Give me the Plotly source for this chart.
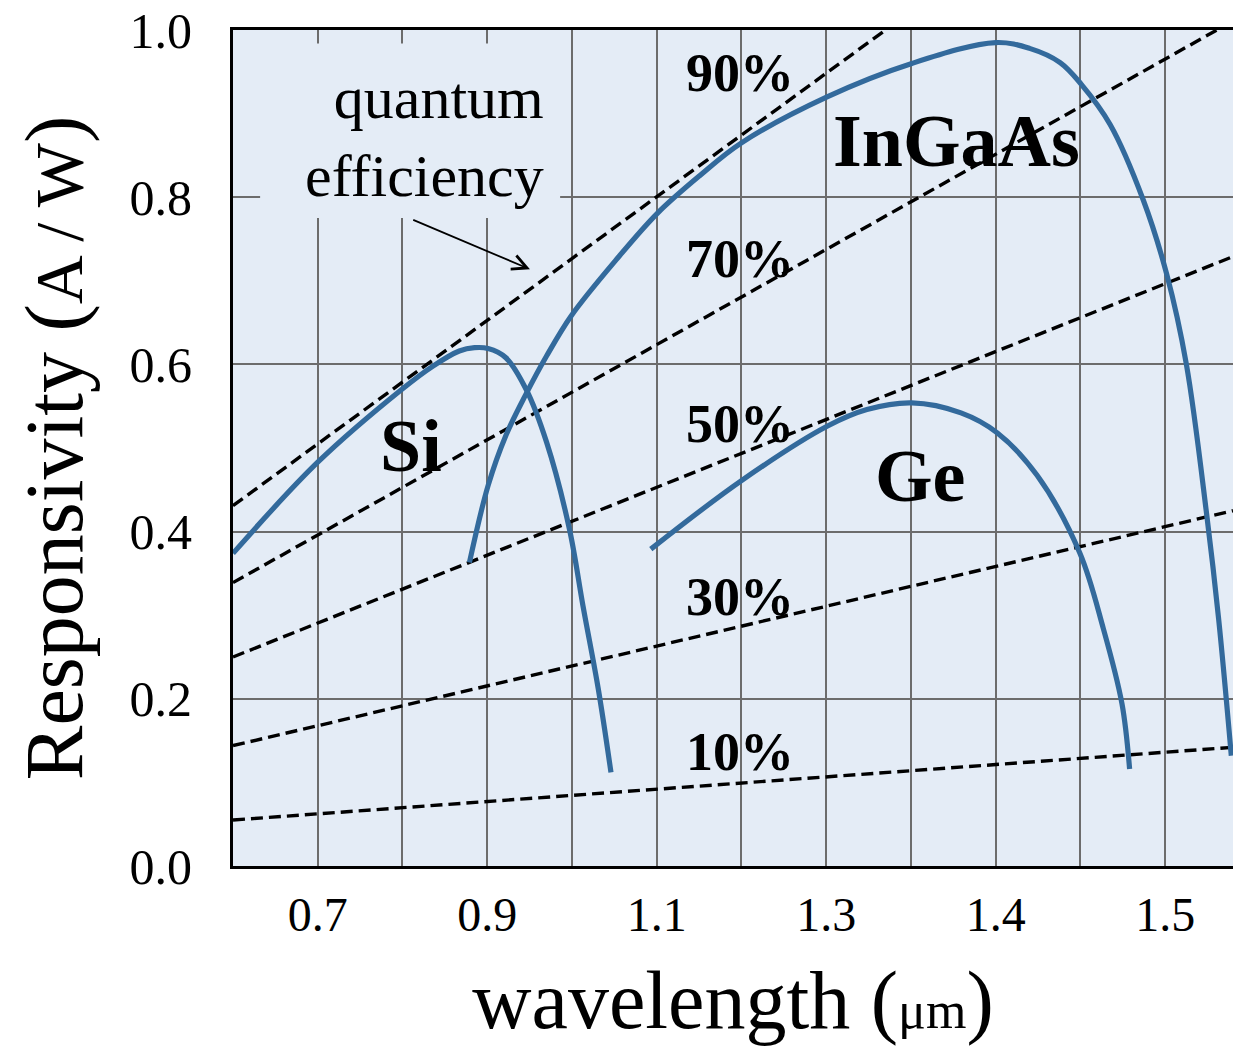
import plotly.graph_objects as go

# ---------------- data ----------------
si_wl = [0.600, 0.700, 0.799, 0.836, 0.867, 0.885, 0.901, 0.922, 0.946, 0.970, 0.997, 1.013, 1.031, 1.046]
si_r = [0.374, 0.483, 0.570, 0.598, 0.616, 0.620, 0.619, 0.608, 0.570, 0.507, 0.403, 0.311, 0.212, 0.112]

ingaas_wl = [0.879, 0.901, 0.922, 0.946, 0.970, 0.999, 1.052, 1.101, 1.151, 1.200, 1.301, 1.401, 1.500,
             1.540, 1.576, 1.601, 1.635, 1.674, 1.702, 1.725, 1.749, 1.763, 1.778]
ingaas_r = [0.363, 0.455, 0.515, 0.565, 0.610, 0.658, 0.725, 0.781, 0.826, 0.865, 0.920, 0.960, 0.985,
            0.978, 0.961, 0.935, 0.887, 0.797, 0.707, 0.600, 0.420, 0.296, 0.132]

ge_wl = [1.093, 1.200, 1.301, 1.348, 1.401, 1.459, 1.502, 1.549, 1.599, 1.627, 1.649, 1.658]
ge_r = [0.379, 0.461, 0.526, 0.546, 0.554, 0.542, 0.518, 0.467, 0.375, 0.284, 0.194, 0.116]

qe_labels = ["90%", "70%", "50%", "30%", "10%"]
qe_wl = [[0.600, 1.370], [0.600, 1.761], [0.600, 1.780], [0.600, 1.780], [0.600, 1.780]]
qe_r = [[0.431, 1.000], [0.339, 1.000], [0.250, 0.729], [0.144, 0.425], [0.055, 0.142]]
qe_label_r = [0.949, 0.726, 0.529, 0.322, 0.136]

x_tickvals = [0.7, 0.8, 0.9, 1.0, 1.1, 1.2, 1.3, 1.4, 1.5, 1.6, 1.7]
x_ticktext = ["0.7", "", "0.9", "", "1.1", "", "1.3", "", "1.4", "", "1.5"]
y_tickvals = [0.0, 0.2, 0.4, 0.6, 0.8, 1.0]
y_ticktext = ["0.0", "0.2", "0.4", "0.6", "0.8", "1.0"]

materials = ["Si", "InGaAs", "Ge"]

# ---------------- styling ----------------
SERIF = "Liberation Serif, Times New Roman, serif"
CURVE = "#336A9C"
BG = "#E4ECF6"
GRID = "#6C6C6C"

fig = go.Figure()

for lab, xs, ys in zip(qe_labels, qe_wl, qe_r):
    fig.add_trace(go.Scatter(x=xs, y=ys, mode="lines", name="QE " + lab,
                             line=dict(color="black", width=3.4, dash="12px,6px"),
                             showlegend=False, hoverinfo="skip"))

for name, xs, ys in zip(materials, [si_wl, ingaas_wl, ge_wl], [si_r, ingaas_r, ge_r]):
    fig.add_trace(go.Scatter(x=xs, y=ys, mode="lines", name=name,
                             line=dict(color=CURVE, width=5.2, shape="spline", smoothing=1.0),
                             showlegend=False))

# background box behind "quantum efficiency" (hides grid lines)
fig.add_shape(type="rect", xref="x", yref="y", x0=0.632, x1=0.986, y0=0.775, y1=0.984,
              fillcolor=BG, line=dict(width=0), layer="between")

annotations = []
for lab, ry in zip(qe_labels, qe_label_r):
    annotations.append(dict(x=1.198, y=ry, text="<b>" + lab + "</b>", showarrow=False,
                            font=dict(family=SERIF, size=54, color="black")))

annotations += [
    dict(x=1.454, y=0.867, text="<b>InGaAs</b>", showarrow=False,
         font=dict(family=SERIF, size=74, color="black")),
    dict(x=0.810, y=0.502, text="<b>Si</b>", showarrow=False,
         font=dict(family=SERIF, size=74, color="black")),
    dict(x=1.411, y=0.467, text="<b>Ge</b>", showarrow=False,
         font=dict(family=SERIF, size=74, color="black")),
    dict(x=0.826, y=0.872, text="quantum<br>efficiency", showarrow=False, align="right",
         font=dict(family=SERIF, size=60, color="black")),
    dict(x=0.9504, y=0.7138, ax=0.8109, ay=0.7736, axref="x", ayref="y", text="",
         showarrow=True, arrowhead=5, arrowsize=1.6, arrowwidth=1.8, arrowcolor="black"),
]

fig.update_layout(
    width=1233, height=1049,
    margin=dict(l=233, r=0, t=30, b=183),
    paper_bgcolor="white", plot_bgcolor=BG,
    annotations=annotations,
    showlegend=False,
    xaxis=dict(
        range=[0.6, 1.78], tickmode="array", tickvals=x_tickvals, ticktext=x_ticktext,
        showgrid=True, gridcolor=GRID, gridwidth=1.9, zeroline=False,
        showline=True, linecolor="black", linewidth=3, mirror=True,
        ticks="", ticklabelstandoff=4,
        tickfont=dict(family=SERIF, size=48, color="black"),
        title=dict(text="wavelength (<span style='font-size:52px'>μm</span>)",
                   font=dict(family=SERIF, size=82, color="black"), standoff=32),
    ),
    yaxis=dict(
        range=[0, 1], tickmode="array", tickvals=y_tickvals, ticktext=y_ticktext,
        showgrid=True, gridcolor=GRID, gridwidth=1.9, zeroline=False,
        showline=True, linecolor="black", linewidth=3, mirror=False,
        ticks="", ticklabelstandoff=28,
        tickfont=dict(family=SERIF, size=50, color="black"),
        title=dict(text="Responsivity (<span style='font-size:68px'>A / W</span>)",
                   font=dict(family=SERIF, size=82, color="black"), standoff=20),
    ),
)

fig.write_html("out.html", config={"displayModeBar": False},
               post_script="document.body.style.margin='0px';")
